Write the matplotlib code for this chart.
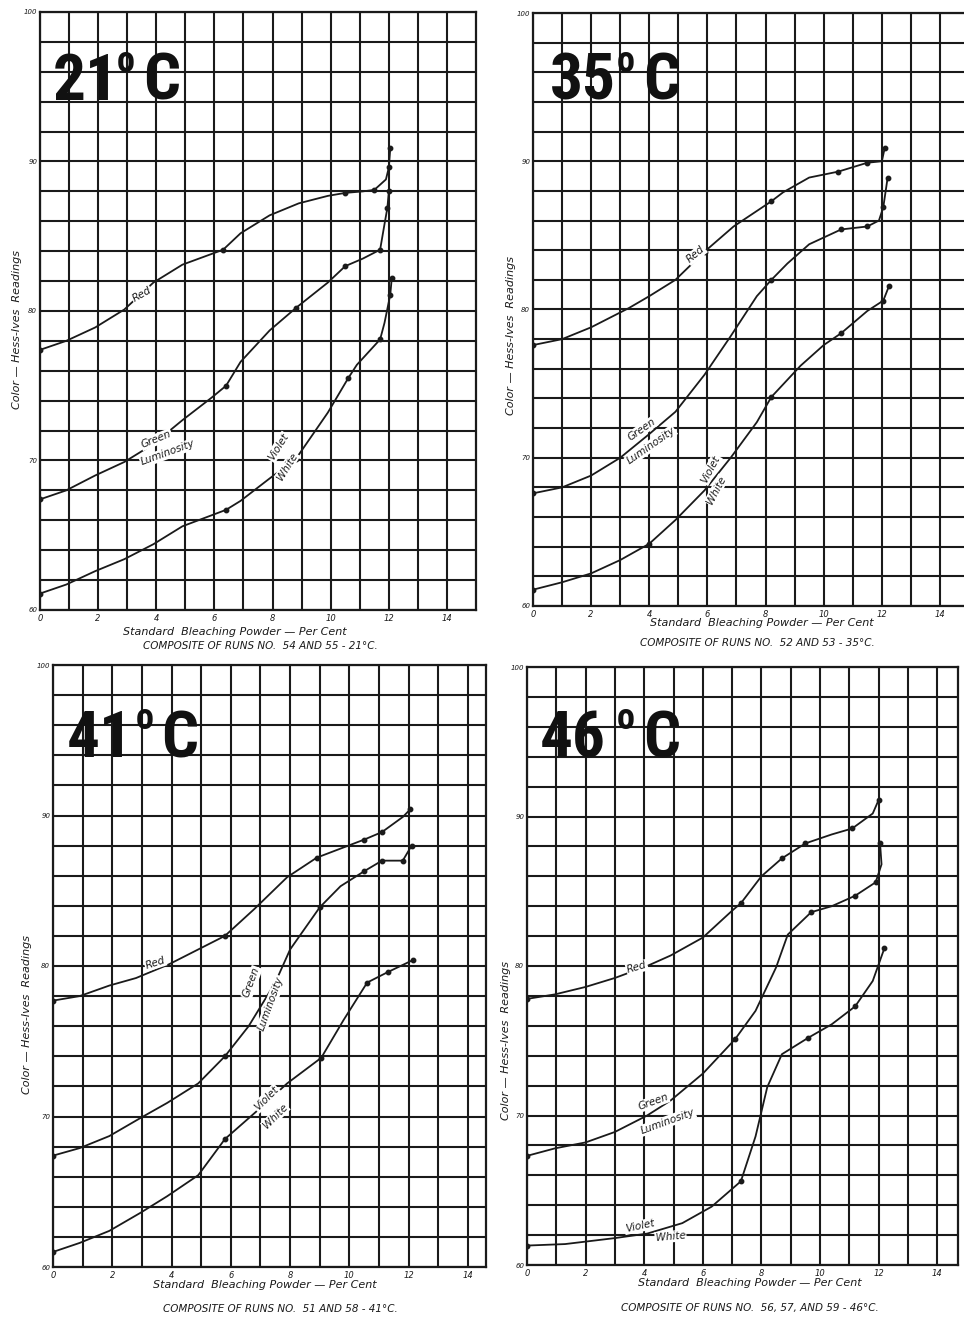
import matplotlib
matplotlib.use("Agg")
import matplotlib.pyplot as plt

# figure size in pixels (dpi 100)
W, H = 964, 1318

# ---- data (x = % bleaching powder, y = Hess-Ives reading) ----
# 21 C
red_21_x = [0, 0.9, 1.9, 2.9, 3.9, 4.9, 6.3, 6.9, 7.9, 8.9, 9.9, 10.5, 11.1, 11.5, 11.9, 12.0, 12.05]
red_21_y = [77.4, 78.0, 78.9, 80.1, 81.9, 83.1, 84.1, 85.2, 86.4, 87.2, 87.7, 87.9, 88.0, 88.1, 88.8, 89.6, 90.9]
green_21_x = [0, 0.9, 1.9, 2.9, 3.9, 4.9, 5.9, 6.4, 6.9, 7.9, 8.8, 9.9, 10.5, 11.1, 11.7, 11.85, 11.95, 12.0]
green_21_y = [67.4, 68.0, 69.0, 69.9, 71.1, 72.7, 74.2, 75.0, 76.6, 78.7, 80.2, 81.9, 83.0, 83.5, 84.1, 85.8, 86.9, 88.0]
violet_21_x = [0, 0.9, 1.9, 2.9, 3.9, 4.9, 6.4, 6.9, 7.9, 8.8, 9.9, 10.6, 10.9, 11.7, 11.85, 12.05, 12.1]
violet_21_y = [61.1, 61.7, 62.6, 63.4, 64.4, 65.6, 66.7, 67.3, 68.8, 70.1, 73.2, 75.5, 76.4, 78.1, 79.2, 81.1, 82.2]

# 35 C
red_35_x = [0, 1, 2, 3.3, 4, 4.9, 5.9, 6.9, 8.2, 8.6, 9.5, 10.5, 11.5, 12.0, 12.1]
red_35_y = [77.6, 78.0, 78.8, 80.1, 80.9, 82.0, 83.9, 85.6, 87.3, 87.9, 88.9, 89.3, 89.9, 90.0, 90.9]
green_35_x = [0, 1, 2, 3, 4, 4.9, 5.9, 6.8, 7.7, 8.2, 8.75, 9.5, 10.6, 11.5, 11.9, 12.05, 12.2]
green_35_y = [67.6, 68.0, 68.8, 70.0, 71.6, 73.1, 75.6, 78.2, 80.9, 82.0, 83.1, 84.4, 85.4, 85.6, 86.0, 86.9, 88.9]
violet_35_x = [0, 1, 2, 3, 4, 4.9, 5.9, 6.8, 7.7, 8.2, 9.2, 10, 10.6, 11.5, 12.05, 12.25]
violet_35_y = [61.1, 61.6, 62.2, 63.1, 64.2, 65.8, 67.8, 70.0, 72.4, 74.1, 76.2, 77.6, 78.4, 79.9, 80.6, 81.6]

# 41 C
red_41_x = [0, 0.9, 1.9, 2.8, 3.9, 4.9, 5.8, 6.8, 7.9, 8.9, 9.7, 10.5, 11.1, 11.8, 12.05]
red_41_y = [77.7, 78.0, 78.7, 79.2, 80.1, 81.1, 82.0, 83.8, 85.9, 87.2, 87.8, 88.4, 88.9, 89.9, 90.4]
green_41_x = [0, 0.9, 1.9, 2.95, 3.85, 4.9, 5.8, 6.6, 7.5, 8.0, 9.0, 9.7, 10.5, 11.1, 11.8, 12.1]
green_41_y = [67.4, 67.9, 68.7, 69.9, 70.9, 72.2, 74.0, 76.0, 78.9, 81.1, 83.9, 85.3, 86.3, 87.0, 87.0, 88.0]
violet_41_x = [0, 0.9, 1.9, 2.95, 3.85, 4.9, 5.8, 6.9, 7.9, 9.05, 9.8, 10.6, 11.3, 12.15]
violet_41_y = [61.0, 61.6, 62.4, 63.6, 64.7, 66.1, 68.5, 70.4, 72.2, 73.9, 76.4, 78.9, 79.6, 80.4]

# 46 C
red_46_x = [0, 0.95, 2, 3, 4.1, 4.9, 6, 7, 7.3, 8, 8.7, 9.5, 10.4, 11.1, 11.8, 12.0]
red_46_y = [77.8, 78.1, 78.6, 79.2, 80.0, 80.7, 81.9, 83.7, 84.2, 86.0, 87.2, 88.2, 88.8, 89.2, 90.2, 91.1]
green_46_x = [0, 0.95, 2, 3, 4.1, 4.9, 6, 7.1, 7.8, 8.5, 8.9, 9.7, 10.4, 11.2, 11.9, 12.1, 12.05]
green_46_y = [67.3, 67.8, 68.2, 68.9, 70.0, 71.0, 72.8, 75.1, 77.0, 79.9, 82.1, 83.6, 84.0, 84.7, 85.6, 86.8, 88.2]
violet_46_x = [0, 1.3, 3, 4.1, 5.3, 6.3, 7.3, 7.8, 8.2, 8.7, 9.6, 10.4, 11.2, 11.8, 12.2]
violet_46_y = [61.3, 61.4, 61.8, 62.1, 62.8, 63.9, 65.6, 68.6, 71.9, 74.1, 75.2, 76.1, 77.3, 79.0, 81.2]

# which points carry a dot
red_21_dots = [0, 6, 11, 13, 15, 16]
green_21_dots = [0, 7, 10, 12, 14, 16, 17]
violet_21_dots = [0, 6, 9, 11, 13, 15, 16]
red_35_dots = [0, 6, 8, 11, 12, 14]
green_35_dots = [0, 9, 12, 13, 15, 16]
violet_35_dots = [0, 4, 9, 12, 14, 15]
red_41_dots = [0, 6, 9, 11, 12, 14]
green_41_dots = [0, 6, 10, 12, 13, 14, 15]
violet_41_dots = [0, 6, 9, 11, 12, 13]
red_46_dots = [0, 8, 10, 11, 13, 15]
green_46_dots = [0, 7, 11, 13, 14, 16]
violet_46_dots = [0, 6, 10, 12, 14]

temps = ["21", "35", "41", "46"]
runs = ["COMPOSITE OF RUNS NO.  54 AND 55 - 21°C.",
        "COMPOSITE OF RUNS NO.  52 AND 53 - 35°C.",
        "COMPOSITE OF RUNS NO.  51 AND 58 - 41°C.",
        "COMPOSITE OF RUNS NO.  56, 57, AND 59 - 46°C."]
x_ticks = [0, 2, 4, 6, 8, 10, 12, 14]
y_ticks = [60, 70, 80, 90, 100]

curves = [
    [(red_21_x, red_21_y, red_21_dots), (green_21_x, green_21_y, green_21_dots), (violet_21_x, violet_21_y, violet_21_dots)],
    [(red_35_x, red_35_y, red_35_dots), (green_35_x, green_35_y, green_35_dots), (violet_35_x, violet_35_y, violet_35_dots)],
    [(red_41_x, red_41_y, red_41_dots), (green_41_x, green_41_y, green_41_dots), (violet_41_x, violet_41_y, violet_41_dots)],
    [(red_46_x, red_46_y, red_46_dots), (green_46_x, green_46_y, green_46_dots), (violet_46_x, violet_46_y, violet_46_dots)],
]

# ---- layout (pixels): left of x=0, top (y=100), bottom (y=60), x limit, px per x unit ----
panels = [
    dict(left=40, top=12, bottom=610, xmax=15.0, unit=29.07),
    dict(left=533, top=13, bottom=606, xmax=15.0, unit=29.07),
    dict(left=53, top=665, bottom=1267, xmax=14.6, unit=29.64),
    dict(left=527, top=667, bottom=1265, xmax=14.7, unit=29.3),
]
# temperature stamp, pixels: digits left, baseline, "o" left, "C" left
stamp_px = [(53, 100, 117, 143), (550, 100, 617, 643), (67, 757, 136, 161), (540, 757, 617, 643)]

# curve labels: (text, x, y, rotation)
labels = [
    [("Red", 3.5, 81.1, 30), ("Green", 4.0, 71.4, 22), ("Luminosity", 4.4, 70.5, 20),
     ("Violet", 8.2, 70.9, 58), ("White", 8.5, 69.6, 58)],
    [("Red", 5.6, 83.7, 40), ("Green", 3.75, 71.9, 35), ("Luminosity", 4.05, 70.8, 35),
     ("Violet", 6.1, 69.2, 62), ("White", 6.3, 67.8, 62)],
    [("Red", 3.45, 80.2, 18), ("Green", 6.7, 78.9, 70), ("Luminosity", 7.35, 77.5, 70),
     ("Violet", 7.2, 71.2, 45), ("White", 7.5, 70.0, 45)],
    [("Red", 3.75, 79.9, 16), ("Green", 4.3, 70.9, 20), ("Luminosity", 4.8, 69.6, 20),
     ("Violet", 3.85, 62.6, 12), ("White", 4.9, 61.9, 5)],
]

# text positions (pixels) for y label, x label and caption
ylab_pos = [(17, 330), (511, 335), (27, 1015), (506, 1040)]
xlab_pos = [(235, 632), (762, 623), (265, 1285), (750, 1283)]
cap_pos = [(260, 646), (757, 643), (280, 1309), (750, 1308)]

INK = "#1a1a1a"
STAMP_FONT = ["Roboto Condensed", "Liberation Sans Narrow", "Roboto", "DejaVu Sans"]

fig = plt.figure(figsize=(W / 100, H / 100), dpi=100)
fig.patch.set_facecolor("white")


def fx(px):
    return px / W


def fy(py):
    return 1 - py / H


for i, p in enumerate(panels):
    width = p["xmax"] * p["unit"]
    ax = fig.add_axes([fx(p["left"]), fy(p["bottom"]), width / W, (p["bottom"] - p["top"]) / H])
    ax.set_xlim(0, p["xmax"])
    ax.set_ylim(60, 100)

    # graph paper grid
    ax.set_xticks(x_ticks)
    ax.set_xticks(range(0, 15), minor=True)
    ax.set_yticks(y_ticks)
    ax.set_yticks(range(60, 101, 2), minor=True)
    ax.grid(which="both", color=INK, linewidth=1.5)
    ax.set_axisbelow(True)
    for s in ax.spines.values():
        s.set_color(INK)
        s.set_linewidth(1.6)
    ax.tick_params(which="both", length=0)
    ax.tick_params(axis="x", labelsize=6, pad=3, colors=INK)
    ax.tick_params(axis="y", labelsize=5, pad=2, colors=INK)
    for t in ax.get_xticklabels() + ax.get_yticklabels():
        t.set_fontstyle("italic")

    # the three curves
    for cx, cy, dots in curves[i]:
        ax.plot(cx, cy, color=INK, linewidth=1.3, solid_joinstyle="round",
                solid_capstyle="round", zorder=3)
        ax.plot([cx[k] for k in dots], [cy[k] for k in dots], "o", color=INK,
                markersize=3.2, zorder=4)

    # curve names written on the curves
    for txt, lx, ly, rot in labels[i]:
        ax.text(lx, ly, txt, rotation=rot, ha="center", va="center", fontsize=7.5,
                fontstyle="italic", color=INK, rotation_mode="anchor", zorder=5,
                bbox=dict(fc="white", ec="none", pad=0.6))

    # big temperature stamp
    dx, base, ox, cxp = stamp_px[i]
    stamp = dict(family=STAMP_FONT, fontweight="bold", color="#111111",
                 va="baseline", ha="left", zorder=6)
    fig.text(fx(dx), fy(base), temps[i], fontsize=47, **stamp)
    fig.text(fx(ox), fy(base - 28), "o", fontsize=26, **stamp)
    fig.text(fx(cxp), fy(base), "C", fontsize=47, **stamp)

    # axis titles and caption
    yx, yy = ylab_pos[i]
    fig.text(fx(yx), fy(yy), "Color — Hess-Ives  Readings", rotation=90, ha="center",
             va="center", fontsize=8, fontstyle="italic", color=INK)
    xx, xy = xlab_pos[i]
    fig.text(fx(xx), fy(xy), "Standard  Bleaching Powder — Per Cent", ha="center",
             va="center", fontsize=8, fontstyle="italic", color=INK)
    cx_, cy_ = cap_pos[i]
    fig.text(fx(cx_), fy(cy_), runs[i], ha="center", va="center", fontsize=7.5,
             fontstyle="italic", color=INK)

fig.savefig("out.png", dpi=100, facecolor="white")
